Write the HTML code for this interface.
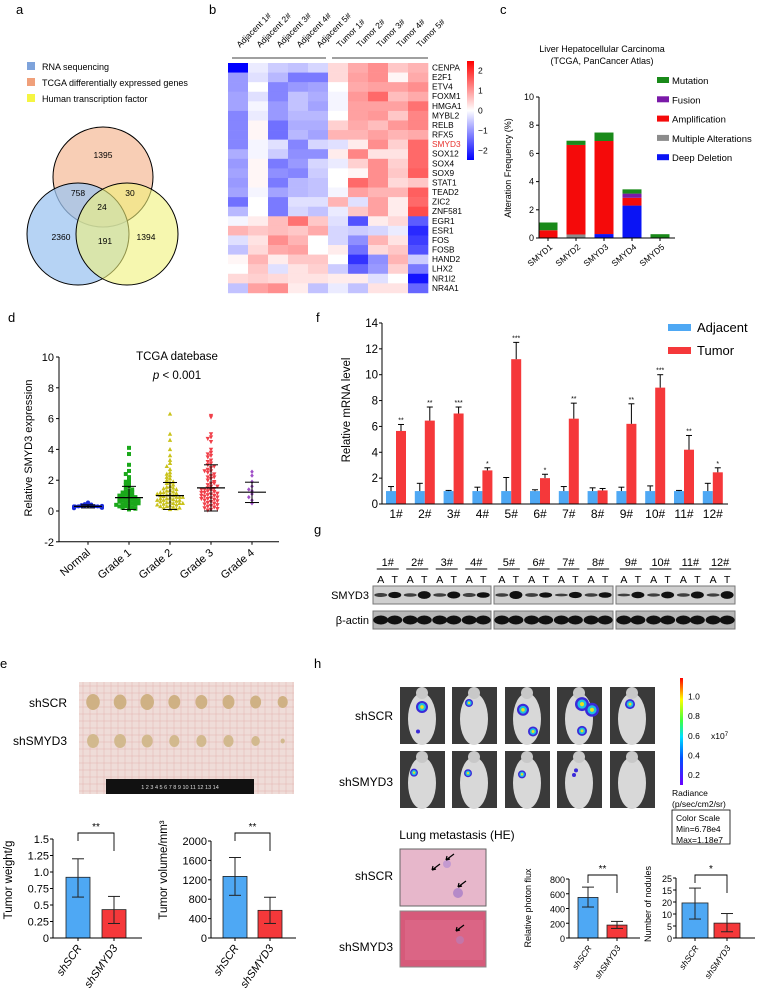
<!DOCTYPE html>
<html><head><meta charset="utf-8"><style>
body{margin:0;background:#fff;}
svg text{font-family:"Liberation Sans",Arial,sans-serif;fill:#000;}
</style></head><body>
<svg id="fig" width="757" height="991" viewBox="0 0 757 991" xmlns="http://www.w3.org/2000/svg">
<g id="pa">
<text x="16" y="14" font-size="13">a</text>
<rect x="27" y="62" width="8" height="8" fill="#7ea3db"/>
<text x="42" y="70" font-size="9">RNA sequencing</text>
<rect x="27" y="78" width="8" height="8" fill="#f0a07a"/>
<text x="42" y="86" font-size="9">TCGA differentially expressed genes</text>
<rect x="27" y="94" width="8" height="8" fill="#f5f542"/>
<text x="42" y="102" font-size="9">Human transcription factor</text>
<circle cx="103" cy="177" r="50" fill="#f7c6a8" fill-opacity="0.85" stroke="#000"/>
<circle cx="78" cy="234" r="51" fill="#9ec4f0" fill-opacity="0.75" stroke="#000"/>
<circle cx="127" cy="234" r="51" fill="#f0f27a" fill-opacity="0.6" stroke="#000"/>
<g font-size="8.5" text-anchor="middle">
<text x="103" y="158">1395</text>
<text x="78" y="196">758</text>
<text x="130" y="196">30</text>
<text x="102" y="210">24</text>
<text x="61" y="240">2360</text>
<text x="105" y="244">191</text>
<text x="146" y="240">1394</text>
</g></g>
<g id="pb"><text x="209" y="14" font-size="13">b</text></g>
<g id="pc"><text x="500" y="14" font-size="13">c</text></g>
<g id="pd"><text x="8" y="322" font-size="13">d</text></g>
<g id="pf"><text x="316" y="322" font-size="13">f</text></g>
<g id="pg"><text x="314" y="534" font-size="13">g</text></g>
<g id="pe"><text x="0" y="668" font-size="13">e</text></g>
<g id="ph"><text x="314" y="668" font-size="13">h</text></g>
</svg>
<script>
const NS="http://www.w3.org/2000/svg";
function mk(p,tag,a,txt){const e=document.createElementNS(NS,tag);for(const k in a)e.setAttribute(k,a[k]);if(txt!==undefined)e.textContent=txt;p.appendChild(e);return e;}
// ===== Panel b data =====
const hmCols=["Adjacent 1#","Adjacent 2#","Adjacent 3#","Adjacent 4#","Adjacent 5#","Tumor 1#","Tumor 2#","Tumor 3#","Tumor 4#","Tumor 5#"];
const hmGenes=["CENPA","E2F1","ETV4","FOXM1","HMGA1","MYBL2","RELB","RFX5","SMYD3","SOX12","SOX4","SOX9","STAT1","TEAD2","ZIC2","ZNF581","EGR1","ESR1","FOS","FOSB","HAND2","LHX2","NR1I2","NR4A1"];
const hmVals=[
[-2.5,-0.2,-0.5,-0.6,-0.4,0.4,0.9,1.2,0.6,0.8],
[-1,-0.3,-0.7,-1.3,-1.3,0.4,1,1.2,0.1,0.9],
[-1,0,-1.2,-1,-0.9,0,0.9,1,1,1.2],
[-0.9,-0.3,-1.2,-0.6,-0.8,-0.1,1.1,1.6,0.7,0.9],
[-0.9,-0.1,-1,-0.6,-0.9,-0.1,1,1,1,1.5],
[-1.2,-0.2,-1,-0.7,-0.7,0,1,1.1,0.6,1.3],
[-1.2,0.1,-1.4,-0.8,-0.8,0.5,0.9,0.7,1.1,1.3],
[-1.2,0.1,-1.4,-0.7,-0.9,0.8,0.8,1,0.8,0.9],
[-1.2,-0.1,-0.3,-1.2,-0.4,-0.3,0.2,1.2,0.5,1.6],
[-0.8,-0.1,-0.5,-1.1,-1.1,0.2,1.3,0.3,0.3,1.6],
[-1,0.1,-1.3,-1,-0.4,-0.2,0.5,1.2,0.5,1.6],
[-0.9,0.1,-1.1,-1.2,-0.5,0,0.1,1.2,0.6,1.7],
[-1,0.1,-1.3,-0.7,-0.6,0,1.6,1.2,0.4,0.6],
[-0.9,-0.1,-0.9,-0.7,-0.6,-0.1,1,0.8,0.8,1.7],
[-1.4,0,-1.3,-0.3,-0.3,0.8,-0.3,1,0.2,1.6],
[-0.7,0,-1.3,-0.4,-0.6,-0.2,0.6,1,0.2,1.9],
[-0.1,0.2,0.7,1.5,0.6,-0.3,-1.7,0.2,0.4,-1.6],
[0.8,0.6,0.7,0.6,0.9,-0.4,-0.5,-0.4,-0.2,-2.1],
[-0.3,0.3,1.2,0.8,0,-0.4,-1.1,0.8,0.3,-1.9],
[-0.6,0.4,0.9,1,0,0.2,-1.4,0.4,0.6,-1.7],
[0.1,0.8,0.2,0.6,0.6,0,-2,-1.1,0.8,-0.5],
[0,0.6,-0.3,0.3,0.5,-0.5,-1.5,-1,0.5,-1.3],
[0.4,0.5,0.4,0.3,0.3,0.2,0.2,-0.3,0,-2.3],
[-0.6,1,1.2,0.2,-0.6,-0.2,-0.6,0.3,0.3,-1.5]];
const hmTicks=[2,1,0,-1,-2];
// ===== Panel c data =====
const cGenes=["SMYD1","SMYD2","SMYD3","SMYD4","SMYD5"];
const cDeep=[0,0,0.28,2.3,0];
const cMulti=[0,0.25,0,0,0];
const cAmp=[0.55,6.35,6.6,0.55,0];
const cFusion=[0,0,0,0.3,0];
const cMut=[0.55,0.3,0.6,0.3,0.27];
const cTicks=[0,2,4,6,8,10];
// ===== Panel d data =====
const dCats=["Normal","Grade 1","Grade 2","Grade 3","Grade 4"];
const dNormal=[0.55,0.45,0.42,0.38,0.36,0.35,0.33,0.32,0.31,0.3,0.3,0.29,0.28,0.27,0.26,0.25,0.24,0.22,0.2,0.18,0.33,0.3,0.27,0.25];
const dG1=[4.1,3.7,3.0,2.6,2.4,2.2,2.0,1.9,1.8,1.7,1.6,1.5,1.4,1.3,1.25,1.2,1.1,1.05,1.0,0.95,0.9,0.85,0.8,0.75,0.7,0.65,0.6,0.55,0.5,0.45,0.4,0.35,0.3,0.25,0.2,0.15,0.1,1.0,0.8,0.6,0.5,0.4,0.3,0.7,1.2];
const dG2=[6.3,5.0,4.6,4.0,3.6,3.3,3.1,2.9,2.7,2.5,2.4,2.3,2.2,2.1,2.0,1.9,1.85,1.8,1.7,1.6,1.55,1.5,1.45,1.4,1.35,1.3,1.25,1.2,1.15,1.1,1.05,1.0,0.95,0.9,0.85,0.8,0.75,0.7,0.65,0.6,0.55,0.5,0.45,0.4,0.35,0.3,0.25,0.2,0.15,0.1,1.0,0.9,0.8,0.7,0.6,0.5,0.4,0.3,0.2,1.2,1.1,0.9,0.7,0.5];
const dG3=[6.2,6.1,5.0,4.8,4.7,4.5,4.0,3.8,3.7,3.6,3.5,3.3,3.2,3.1,3.0,2.9,2.8,2.7,2.6,2.5,2.4,2.3,2.2,2.1,2.0,1.9,1.8,1.7,1.6,1.5,1.45,1.4,1.35,1.3,1.25,1.2,1.15,1.1,1.05,1.0,0.95,0.9,0.85,0.8,0.75,0.7,0.65,0.6,0.55,0.5,0.45,0.4,0.35,0.3,0.25,0.2,0.15,0.1,0.05,1.6,1.4,1.2,1.0,0.8,2.2,2.6,1.8];
const dG4=[2.55,2.3,1.9,1.6,1.4,1.3,1.1,0.9,0.7,0.5];
const dMean=[0.3,0.87,1.0,1.5,1.22];
const dSdLo=[0.2,0.1,0.1,0.0,0.55];
const dSdHi=[0.4,1.6,1.85,3.0,1.87];
const dTicks=[-2,0,2,4,6,8,10];
// ===== Panel f data =====
const fCats=["1#","2#","3#","4#","5#","6#","7#","8#","9#","10#","11#","12#"];
const fAdj=[1,1,1,1,1,1,1,1,1,1,1,1];
const fAdjErr=[0.35,0.6,0.05,0.3,1.05,0.1,0.35,0.25,0.3,0.4,0.05,0.6];
const fTum=[5.65,6.45,7.0,2.6,11.2,2.0,6.6,1.05,6.2,9.0,4.2,2.45];
const fTumErr=[0.5,1.05,0.5,0.2,1.3,0.3,1.2,0.15,1.55,1.0,1.1,0.35];
const fSig=["**","**","***","*","***","*","**","","**","***","**","*"];
const fTicks=[0,2,4,6,8,10,12,14];
// ===== Panel e data =====
const eGroups=["shSCR","shSMYD3"];
const eWeight=[0.92,0.43];
const eWeightLo=[0.62,0.22];
const eWeightHi=[1.2,0.63];
const eWeightTicks=["0","0.25","0.5","0.75","1.0","1.25","1.5"];
const eVol=[1270,570];
const eVolLo=[880,300];
const eVolHi=[1660,840];
const eVolTicks=[0,400,800,1200,1600,2000];
// ===== Panel h data =====
const hFlux=[550,175];
const hFluxLo=[420,130];
const hFluxHi=[690,225];
const hFluxTicks=[0,200,400,600,800];
const hNod=[14.6,6.2];
const hNodLo=[7.9,2.6];
const hNodHi=[20.8,10.2];
const hNodTickVals=[0,5,10,15,20,25];
const hNodTickLabels=["0","5","10","20","15","25"];
const hColorTicks=["0.2","0.4","0.6","0.8","1.0"];

// ===== draw b =====
(function(){
 const g=document.getElementById('pb');
 const x0=228,cw=20,y0=63,rh=9.58;
 function col(v){let t=Math.max(-1,Math.min(1,v/2.5));let a=Math.abs(t);
  if(t>=0){return `rgb(255,${Math.round(255-235*a)},${Math.round(255-235*a)})`;}
  return `rgb(${Math.round(255-255*a)},${Math.round(255-255*a)},255)`;}
 hmVals.forEach((row,i)=>row.forEach((v,j)=>{
  const r=mk(g,'rect',{x:x0+j*cw,y:y0+i*rh,width:cw+0.3,height:rh+0.3,fill:col(v)});
  
  
 }));
 hmGenes.forEach((n,i)=>{const t=mk(g,'text',{x:432,y:y0+i*rh+7.5,'font-size':8.3,style:n==='SMYD3'?'fill:#e8322d':''},n);
  
  });
 hmCols.forEach((n,j)=>{const cx=x0+j*cw+cw/2+2;const t=mk(g,'text',{x:cx,y:48,'font-size':8.5,transform:`rotate(-45 ${cx} 48)`},n);
  
  });
 mk(g,'line',{x1:232,y1:58,x2:326,y2:58,stroke:'#000','stroke-width':0.8});
 mk(g,'line',{x1:332,y1:58,x2:428,y2:58,stroke:'#000','stroke-width':0.8});
 const defs=mk(g,'defs',{});const lg=mk(defs,'linearGradient',{id:'hmg',x1:0,y1:0,x2:0,y2:1});
 mk(lg,'stop',{offset:'0','stop-color':'#ff0000'});mk(lg,'stop',{offset:'0.5','stop-color':'#ffffff'});mk(lg,'stop',{offset:'1','stop-color':'#0000ff'});
 const cb=mk(g,'rect',{x:467,y:61,width:7,height:99,fill:'url(#hmg)'});
 
 
 hmTicks.forEach(v=>{const y=110.5-v*20;mk(g,'text',{x:478,y:y+3,'font-size':8.5},v<0?'\u2212'+(-v):String(v));});
})();
// ===== draw c =====
(function(){
 const g=document.getElementById('pc');
 const ax=539,y0=238,py=14.1,bw=19;
 const Y=v=>y0-v*py, X=i=>548+i*28;
 mk(g,'text',{x:602,y:52,'font-size':9,'text-anchor':'middle'},'Liver Hepatocellular Carcinoma');
 mk(g,'text',{x:602,y:64,'font-size':9,'text-anchor':'middle'},'(TCGA, PanCancer Atlas)');
 const series=[[cDeep,'#0a14f5'],[cMulti,'#8c8c8c'],[cAmp,'#f50a0a'],[cFusion,'#7a1aa8'],[cMut,'#1a8a1a']];
 cGenes.forEach((n,i)=>{let acc=0;series.forEach(([arr,c])=>{const v=arr[i];if(v>0){const r=mk(g,'rect',{x:X(i)-bw/2,y:Y(acc+v),width:bw,height:v*py,fill:c});
  
  }acc+=v;});
  mk(g,'line',{x1:X(i),y1:y0,x2:X(i),y2:y0+3,stroke:'#000'});
  const t=mk(g,'text',{x:X(i)+5,y:y0+10,'font-size':8.5,'text-anchor':'end',transform:`rotate(-40 ${X(i)+5} ${y0+10})`},n);
  
  });
 mk(g,'line',{x1:ax,y1:Y(10),x2:ax,y2:y0,stroke:'#000'});
 mk(g,'line',{x1:ax,y1:y0,x2:675,y2:y0,stroke:'#000'});
 cTicks.forEach(v=>{mk(g,'line',{x1:ax-3,y1:Y(v),x2:ax,y2:Y(v),stroke:'#000'});mk(g,'text',{x:ax-5,y:Y(v)+3,'font-size':9,'text-anchor':'end'},String(v));});
 mk(g,'text',{x:511,y:168,'font-size':9,'text-anchor':'middle',transform:'rotate(-90 511 168)'},'Alteration Frequency (%)');
 const leg=[['Mutation','#1a8a1a'],['Fusion','#7a1aa8'],['Amplification','#f50a0a'],['Multiple Alterations','#8c8c8c'],['Deep Deletion','#0a14f5']];
 leg.forEach(([n,c],i)=>{const y=81+i*19.3;mk(g,'rect',{x:657,y:y-4,width:12,height:6,fill:c});const t=mk(g,'text',{x:672,y:y+3,'font-size':9.5},n);
  
  });
})();
// ===== draw d =====
(function(){
 const g=document.getElementById('pd');
 const ax=59,Y=v=>511-v*15.4,xs=[88,129,170,211,252];
 mk(g,'line',{x1:ax,y1:Y(10),x2:ax,y2:Y(-2),stroke:'#000'});
 mk(g,'line',{x1:ax,y1:Y(-2),x2:279,y2:Y(-2),stroke:'#000'});
 dTicks.forEach(v=>{mk(g,'line',{x1:ax-3,y1:Y(v),x2:ax,y2:Y(v),stroke:'#000'});mk(g,'text',{x:ax-5,y:Y(v)+4,'font-size':11,'text-anchor':'end'},String(v));});
 mk(g,'text',{x:177,y:360,'font-size':11.5,'text-anchor':'middle'},'TCGA datebase');
 const p=mk(g,'text',{x:177,y:379,'font-size':11.5,'text-anchor':'middle'});mk(p,'tspan',{'font-style':'italic'},'p');mk(p,'tspan',{},' < 0.001');
 mk(g,'text',{x:32,y:448,'font-size':11,'text-anchor':'middle',transform:'rotate(-90 32 448)'},'Relative SMYD3 expression');
 const groups=[[dNormal,'#1a2ad8','c'],[dG1,'#1aa81a','s'],[dG2,'#c9c21a','u'],[dG3,'#f0404a','d'],[dG4,'#a050c8','m']];
 groups.forEach(([arr,c,shape],gi)=>{
  const bins={};
  arr.forEach(v=>{const b=Math.round(v/0.25);bins[b]=(bins[b]||0)+1;const k=bins[b]-1;
   const off=(k%2===0?1:-1)*Math.ceil(k/2)*3.2;const cx=xs[gi]+Math.max(-14,Math.min(14,off));const cy=Y(v);let e;
   if(shape==='c')e=mk(g,'circle',{cx:cx,cy:cy,r:2,fill:c});
   else if(shape==='s')e=mk(g,'rect',{x:cx-2,y:cy-2,width:4,height:4,fill:c});
   else if(shape==='u')e=mk(g,'polygon',{points:`${cx},${cy-2.4} ${cx-2.2},${cy+1.7} ${cx+2.2},${cy+1.7}`,fill:c});
   else if(shape==='d')e=mk(g,'polygon',{points:`${cx},${cy+2.4} ${cx-2.2},${cy-1.7} ${cx+2.2},${cy-1.7}`,fill:c});
   else e=mk(g,'polygon',{points:`${cx},${cy-2.2} ${cx-1.8},${cy} ${cx},${cy+2.2} ${cx+1.8},${cy}`,fill:c});
   
   });
  const m=xs[gi];
  mk(g,'line',{x1:m-14,y1:Y(dMean[gi]),x2:m+14,y2:Y(dMean[gi]),stroke:'#000','stroke-width':1.2});
  mk(g,'line',{x1:m,y1:Y(dSdLo[gi]),x2:m,y2:Y(dSdHi[gi]),stroke:'#000'});
  mk(g,'line',{x1:m-7,y1:Y(dSdLo[gi]),x2:m+7,y2:Y(dSdLo[gi]),stroke:'#000'});
  mk(g,'line',{x1:m-7,y1:Y(dSdHi[gi]),x2:m+7,y2:Y(dSdHi[gi]),stroke:'#000'});
  mk(g,'line',{x1:m,y1:Y(-2),x2:m,y2:Y(-2)+3,stroke:'#000'});
  const t=mk(g,'text',{x:m+3,y:Y(-2)+12,'font-size':11,'text-anchor':'end',transform:`rotate(-40 ${m+3} ${Y(-2)+12})`},dCats[gi]);
  
  
 });
})();
// ===== draw f =====
(function(){
 const g=document.getElementById('pf');
 const ax=382,Y=v=>504-v*12.93,X=i=>396+i*28.8,bw=10;
 fCats.forEach((n,i)=>{const c=X(i);
  const b=mk(g,'rect',{x:c-bw,y:Y(fAdj[i]),width:bw,height:fAdj[i]*12.93,fill:'#4ea8f4'});
  
  
  const r=mk(g,'rect',{x:c,y:Y(fTum[i]),width:bw,height:fTum[i]*12.93,fill:'#f5383a'});
  
  
  [[c-bw/2,fAdj[i],fAdjErr[i]],[c+bw/2,fTum[i],fTumErr[i]]].forEach(([x,v,e])=>{
   mk(g,'line',{x1:x,y1:Y(v),x2:x,y2:Y(v+e),stroke:'#000'});mk(g,'line',{x1:x-3,y1:Y(v+e),x2:x+3,y2:Y(v+e),stroke:'#000'});});
  if(fSig[i])mk(g,'text',{x:c+bw/2,y:Y(fTum[i]+fTumErr[i])-2,'font-size':7,'text-anchor':'middle'},fSig[i]);
  const t=mk(g,'text',{x:c,y:518,'font-size':12,'text-anchor':'middle'},n);
  
  
 });
 mk(g,'line',{x1:ax,y1:Y(14),x2:ax,y2:Y(0),stroke:'#000'});
 mk(g,'line',{x1:ax,y1:Y(0),x2:728,y2:Y(0),stroke:'#000'});
 fTicks.forEach(v=>{mk(g,'line',{x1:ax-3,y1:Y(v),x2:ax,y2:Y(v),stroke:'#000'});mk(g,'text',{x:ax-4,y:Y(v)+4,'font-size':11.5,'text-anchor':'end'},String(v));});
 mk(g,'text',{x:350,y:410,'font-size':11.5,'text-anchor':'middle',transform:'rotate(-90 350 410)'},'Relative mRNA level');
 mk(g,'rect',{x:668,y:324,width:23,height:7,fill:'#4ea8f4'});mk(g,'text',{x:697,y:332,'font-size':13},'Adjacent');
 mk(g,'rect',{x:668,y:347,width:23,height:7,fill:'#f5383a'});mk(g,'text',{x:697,y:355,'font-size':13},'Tumor');
})();
// ===== draw g =====
(function(){
 const g=document.getElementById('pg');
 const segs=[[373,491],[494,613],[616,735]];
 segs.forEach(s=>{
  const r1=mk(g,'rect',{x:s[0],y:586,width:s[1]-s[0],height:18,fill:'#cfcfcf',stroke:'#777'});
  
  
  const r2=mk(g,'rect',{x:s[0],y:611,width:s[1]-s[0],height:18,fill:'#b8b8b8',stroke:'#777'});
  
  });
 const bands=[[0.5,0.7],[0.4,0.95],[0.35,0.85],[0.5,0.6],[0.4,1.0],[0.45,0.55],[0.2,0.7],[0.4,0.6],[0.2,0.75],[0.3,0.8],[0.35,0.85],[0.3,0.95]];
 fCats.forEach((n,i)=>{const s=segs[Math.floor(i/4)];const w=(s[1]-s[0])/4;const c=s[0]+w*(i%4)+w/2;
  mk(g,'text',{x:c,y:566,'font-size':11,'text-anchor':'middle'},n);
  mk(g,'line',{x1:c-11,y1:569,x2:c+11,y2:569,stroke:'#000'});
  mk(g,'text',{x:c-7,y:583,'font-size':10.5,'text-anchor':'middle'},'A');mk(g,'text',{x:c+7,y:583,'font-size':10.5,'text-anchor':'middle'},'T');
  mk(g,'ellipse',{cx:c-7,cy:595,rx:6.5,ry:1+2*bands[i][0],fill:'#1a1a1a','fill-opacity':0.8});
  mk(g,'ellipse',{cx:c+7,cy:595,rx:6.5,ry:1+3*bands[i][1],fill:'#111'});
  mk(g,'ellipse',{cx:c-7,cy:620,rx:7.5,ry:4.5,fill:'#111'});mk(g,'ellipse',{cx:c+7,cy:620,rx:7.5,ry:4.5,fill:'#111'});
 });
 mk(g,'text',{x:369,y:599,'font-size':11,'text-anchor':'end'},'SMYD3');
 mk(g,'text',{x:369,y:624,'font-size':11,'text-anchor':'end'},'β-actin');
})();
// ===== bar chart helper =====
function barChart(g,o){
 const Y=v=>o.y0-(v-o.min)/(o.max-o.min)*(o.y0-o.ytop);
 o.vals.forEach((v,i)=>{const x=o.xs[i];
  const r=mk(g,'rect',{x:x,y:Y(v),width:o.bw,height:o.y0-Y(v),fill:i===0?'#4ea8f4':'#f5383a',stroke:'#222','stroke-width':0.8});
  
  
  const cx=x+o.bw/2;
  mk(g,'line',{x1:cx,y1:Y(o.lo[i]),x2:cx,y2:Y(o.hi[i]),stroke:'#222'});
  mk(g,'line',{x1:cx-6,y1:Y(o.lo[i]),x2:cx+6,y2:Y(o.lo[i]),stroke:'#222'});
  mk(g,'line',{x1:cx-6,y1:Y(o.hi[i]),x2:cx+6,y2:Y(o.hi[i]),stroke:'#222'});
  mk(g,'line',{x1:cx,y1:o.y0,x2:cx,y2:o.y0+3,stroke:'#000'});
  const t=mk(g,'text',{x:cx+4,y:o.y0+10,'font-size':o.lfs,'font-style':'italic','text-anchor':'end',transform:`rotate(-55 ${cx+4} ${o.y0+10})`},eGroups[i]);
  
  
 });
 mk(g,'line',{x1:o.ax,y1:o.ytop,x2:o.ax,y2:o.y0,stroke:'#000'});
 mk(g,'line',{x1:o.ax,y1:o.y0,x2:o.xend,y2:o.y0,stroke:'#000'});
 o.ticks.forEach((v,k)=>{mk(g,'line',{x1:o.ax-3,y1:Y(v),x2:o.ax,y2:Y(v),stroke:'#000'});mk(g,'text',{x:o.ax-4,y:Y(v)+4,'font-size':o.tfs,'text-anchor':'end'},o.tl?o.tl[k]:String(v));});
 const b1=o.xs[0]+o.bw/2,b2=o.xs[1]+o.bw/2;
 mk(g,'polyline',{points:`${b1},${o.by+8} ${b1},${o.by} ${b2},${o.by} ${b2},${o.by+18}`,fill:'none',stroke:'#000','stroke-width':0.9});
 mk(g,'text',{x:(b1+b2)/2,y:o.by-3,'font-size':10,'text-anchor':'middle'},o.sig);
 mk(g,'text',{x:o.lx,y:o.ly,'font-size':o.yfs,'text-anchor':'middle',transform:`rotate(-90 ${o.lx} ${o.ly})`},o.ylab);
}
// ===== draw e =====
(function(){
 const g=document.getElementById('pe');
 const ph=mk(g,'rect',{x:79,y:682,width:215,height:112,fill:'#efdcd8'});
 
 
 for(let x=83;x<294;x+=7)mk(g,'line',{x1:x,y1:682,x2:x,y2:794,stroke:'#e2a9a8','stroke-width':0.4});
 for(let y=686;y<794;y+=7)mk(g,'line',{x1:79,y1:y,x2:294,y2:y,stroke:'#e2a9a8','stroke-width':0.4});
 mk(g,'rect',{x:106,y:779,width:148,height:15,fill:'#111'});
 mk(g,'text',{x:180,y:789,'font-size':5.5,'text-anchor':'middle',style:'fill:#ddd'},'1 2 3 4 5 6 7 8 9 10 11 12 13 14');
 const s1=[8,7.5,8,7,7,7,6.5,6],s2=[7,7,6.5,6,6,6,5,2.5];
 for(let i=0;i<8;i++){const x=93+i*27.1;
  mk(g,'ellipse',{cx:x,cy:702,rx:s1[i]*0.85,ry:s1[i],fill:'#cfb184'});
  mk(g,'ellipse',{cx:x,cy:741,rx:s2[i]*0.85,ry:s2[i],fill:'#d2b98e'});}
 mk(g,'text',{x:67,y:707,'font-size':12,'text-anchor':'end'},'shSCR');
 mk(g,'text',{x:67,y:745,'font-size':12,'text-anchor':'end'},'shSMYD3');
 barChart(g,{vals:eWeight,lo:eWeightLo,hi:eWeightHi,min:0,max:1.5,y0:938,ytop:839,ax:53,xend:142,xs:[66,102],bw:24,ticks:[0,0.25,0.5,0.75,1.0,1.25,1.5],tl:eWeightTicks,tfs:11,lfs:11,by:833,sig:'**',ylab:'Tumor weight/g',lx:12,ly:880,yfs:11.5});
 barChart(g,{vals:eVol,lo:eVolLo,hi:eVolHi,min:0,max:2000,y0:938,ytop:841,ax:211,xend:296,xs:[223,258],bw:24,ticks:eVolTicks,tfs:11,lfs:11,by:833,sig:'**',ylab:'Tumor volume/mm³',lx:167,ly:870,yfs:11.5});
})();
// ===== draw h =====
(function(){
 const g=document.getElementById('ph');
 const cols=[400,452,505,557,610];
 const blobs1=[[[22,35,6],[18,78,2]],[[17,28,4]],[[18,40,6],[28,78,5]],[[25,30,7],[35,40,7],[25,77,5]],[[20,30,5]]];
 const blobs2=[[[14,38,4]],[[16,39,4]],[[17,41,4]],[[19,34,2],[17,42,2]],[]];
 [[687,blobs1],[751,blobs2]].forEach(([y,bl])=>cols.forEach((x,i)=>{
  const r=mk(g,'rect',{x:x,y:y,width:45,height:57,fill:'#3a3a3a'});
  
  
  mk(g,'ellipse',{cx:x+22,cy:y+32,rx:14,ry:26,fill:'#d8d8d8'});
  mk(g,'ellipse',{cx:x+22,cy:y+6,rx:6,ry:6,fill:'#c8c8c8'});
  bl[i].forEach(([bx,by,br])=>{mk(g,'circle',{cx:x+bx,cy:y+by*0.57,r:br,fill:'#3a2ad8'});if(br>3){mk(g,'circle',{cx:x+bx,cy:y+by*0.57,r:br*0.65,fill:'#20c0e0'});mk(g,'circle',{cx:x+bx,cy:y+by*0.57,r:br*0.3,fill:'#e8e020'});}});
 }));
 mk(g,'text',{x:393,y:720,'font-size':12,'text-anchor':'end'},'shSCR');
 mk(g,'text',{x:393,y:786,'font-size':12,'text-anchor':'end'},'shSMYD3');
 const defs=mk(g,'defs',{});const lg=mk(defs,'linearGradient',{id:'rad',x1:0,y1:1,x2:0,y2:0});
 [['0','#6a00ff'],['0.25','#0050ff'],['0.45','#00e0ff'],['0.6','#40ff40'],['0.8','#ffff00'],['1','#ff0000']].forEach(([o,c])=>mk(lg,'stop',{offset:o,'stop-color':c}));
 const cb=mk(g,'rect',{x:680,y:678,width:3,height:107,fill:'url(#rad)'});
 
 
 hColorTicks.forEach((t,i)=>mk(g,'text',{x:688,y:778-i*19.6,'font-size':8.5},t));
 const xt=mk(g,'text',{x:711,y:739,'font-size':8.5},'x10');mk(xt,'tspan',{'font-size':6,dy:-3},'7');
 mk(g,'text',{x:672,y:796,'font-size':8.5},'Radiance');
 mk(g,'text',{x:672,y:807,'font-size':8.5},'(p/sec/cm2/sr)');
 mk(g,'rect',{x:672,y:810,width:58,height:34,fill:'none',stroke:'#000','stroke-width':0.8});
 mk(g,'text',{x:676,y:821,'font-size':8.5},'Color Scale');
 mk(g,'text',{x:676,y:832,'font-size':8.5},'Min=6.78e4');
 mk(g,'text',{x:676,y:843,'font-size':8.5},'Max=1.18e7');
 mk(g,'text',{x:457,y:839,'font-size':12,'text-anchor':'middle'},'Lung metastasis (HE)');
 const he1=mk(g,'rect',{x:400,y:849,width:86,height:57,fill:'#e7b7cb',stroke:'#666'});
 
 
 const he2=mk(g,'rect',{x:400,y:911,width:86,height:56,fill:'#d65a7a',stroke:'#888'});
 
 
 mk(g,'ellipse',{cx:458,cy:893,rx:5,ry:5,fill:'#b58ac8'});mk(g,'ellipse',{cx:447,cy:864,rx:4,ry:4,fill:'#c49ad0'});mk(g,'ellipse',{cx:460,cy:940,rx:4,ry:4,fill:'#a87ac0'});
 mk(g,'rect',{x:405,y:920,width:78,height:40,fill:'#e07090','fill-opacity':0.5});
 [[446,860],[432,870],[458,887],[456,931]].forEach(([x,y])=>mk(g,'path',{d:`M${x+8},${y-6} L${x},${y} M${x},${y} l4,-1 M${x},${y} l1,-4`,stroke:'#000','stroke-width':1.2,fill:'none'}));
 mk(g,'text',{x:393,y:880,'font-size':12,'text-anchor':'end'},'shSCR');
 mk(g,'text',{x:393,y:951,'font-size':12,'text-anchor':'end'},'shSMYD3');
 barChart(g,{vals:hFlux,lo:hFluxLo,hi:hFluxHi,min:0,max:800,y0:938,ytop:879,ax:569,xend:640,xs:[578,607],bw:20,ticks:hFluxTicks,tfs:9,lfs:8.5,by:875,sig:'**',ylab:'Relative photon flux',lx:531,ly:908,yfs:9});
 barChart(g,{vals:hNod,lo:hNodLo,hi:hNodHi,min:0,max:25,y0:938,ytop:878,ax:676,xend:755,xs:[682,714],bw:26,ticks:hNodTickVals,tl:hNodTickLabels,tfs:9,lfs:8.5,by:875,sig:'*',ylab:'Number of nodules',lx:651,ly:904,yfs:9});
})();
</script>
</body></html>
